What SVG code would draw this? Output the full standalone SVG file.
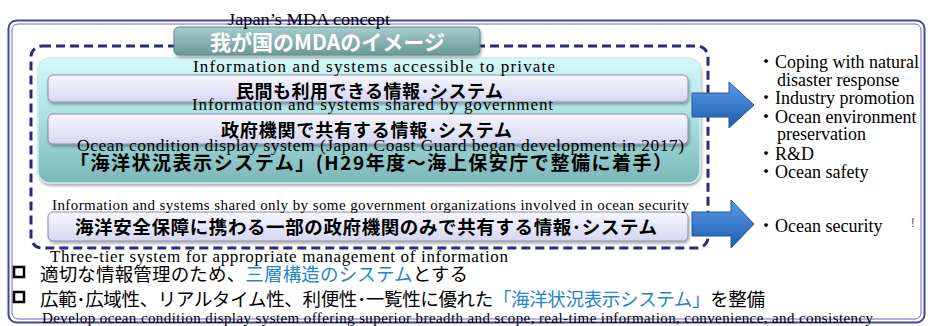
<svg xmlns="http://www.w3.org/2000/svg" width="928" height="326" viewBox="0 0 928 326">
<defs>
<linearGradient id="gTier" x1="0" y1="0" x2="0" y2="1">
<stop offset="0" stop-color="#d6f8f8"/><stop offset="0.5" stop-color="#a6e0e0"/><stop offset="1" stop-color="#7cb6b6"/>
</linearGradient>
<linearGradient id="gBox" x1="0" y1="0" x2="0" y2="1">
<stop offset="0" stop-color="#f7f7ff"/><stop offset="1" stop-color="#d6d6f0"/>
</linearGradient>
<linearGradient id="gTitle" x1="0" y1="0" x2="0" y2="1">
<stop offset="0" stop-color="#a9cccc"/><stop offset="1" stop-color="#6a9898"/>
</linearGradient>
<linearGradient id="gArrow" x1="0" y1="0" x2="0" y2="1">
<stop offset="0" stop-color="#5a9ae6"/><stop offset="1" stop-color="#1d5cb0"/>
</linearGradient>
<filter id="sh" x="-5%" y="-20%" width="110%" height="150%">
<feDropShadow dx="1" dy="2" stdDeviation="1.5" flood-color="#000" flood-opacity="0.35"/>
</filter>
</defs>
<style>
.en{font-family:"Liberation Serif","Noto Sans CJK JP",serif;fill:#000}
.jp{font-family:"Noto Sans CJK JP",sans-serif;fill:#000}
.jpb{font-family:"Noto Sans CJK JP",sans-serif;font-weight:bold;fill:#000}
.blue{fill:#1f86cc}
.box{fill:url(#gBox);stroke:#8c8cad;stroke-width:1}
.arrow{fill:url(#gArrow);stroke:#2a5798;stroke-width:1}
.list{font-family:"Liberation Serif","Noto Sans CJK JP",serif;font-size:18px;fill:#000}
</style>
<rect width="928" height="326" fill="#fff"/>

<g id="frame" fill="none">
<rect x="8.5" y="20.5" width="916" height="302" rx="8" stroke="#45459f" stroke-width="2"/>
<rect x="12" y="24" width="909" height="295" rx="6" stroke="#6b6bbb" stroke-width="1"/>
</g>

<g id="scope">
<rect x="31" y="46" width="677" height="202" rx="11" fill="none" stroke="#2b2b7e" stroke-width="3" stroke-dasharray="9 5"/>
</g>

<g id="tier-shared">
<rect x="38" y="58" width="662" height="125" rx="12" fill="url(#gTier)" stroke="#c4f0f0" stroke-width="1.5" filter="url(#sh)"/>
</g>

<g id="box-private">
<rect class="box" x="48" y="75" width="640" height="27" rx="5" filter="url(#sh)"/>
<text class="en" x="193" y="72" font-size="17" textLength="362" lengthAdjust="spacing">Information and systems accessible to private</text>
<text class="jpb" x="236" y="98" font-size="18" textLength="267" lengthAdjust="spacing">民間も利用できる情報･システム</text>
</g>

<g id="box-government">
<rect class="box" x="48" y="114" width="640" height="30" rx="5" filter="url(#sh)"/>
<text class="en" x="192" y="110" font-size="17" textLength="361" lengthAdjust="spacing">Information and systems shared by government</text>
<text class="jpb" x="221" y="137" font-size="18" textLength="291" lengthAdjust="spacing">政府機関で共有する情報･システム</text>
</g>

<g id="ocean-display">
<text class="en" x="77" y="151" font-size="17.5" textLength="607" lengthAdjust="spacing">Ocean condition display system (Japan Coast Guard began development in 2017)</text>
<text class="jpb" x="70" y="170" font-size="19" textLength="602" lengthAdjust="spacing">「海洋状況表示システム」(H29年度～海上保安庁で整備に着手）</text>
</g>

<g id="box-security">
<rect class="box" x="48" y="212" width="640" height="29" rx="5" filter="url(#sh)"/>
<text class="en" x="52" y="210" font-size="15" textLength="637" lengthAdjust="spacing">Information and systems shared only by some government organizations involved in ocean security</text>
<text class="jpb" x="75" y="234" font-size="18.5" textLength="582" lengthAdjust="spacing">海洋安全保障に携わる一部の政府機関のみで共有する情報･システム</text>
</g>

<g id="title">
<rect x="174" y="27" width="306" height="28" rx="5" fill="url(#gTitle)" stroke="#5d8b8b" stroke-width="1" filter="url(#sh)"/>
<text x="210" y="50" font-family="Noto Sans CJK JP,sans-serif" font-weight="bold" font-size="21" fill="#fff" textLength="235" lengthAdjust="spacingAndGlyphs">我が国のMDAのイメージ</text>
<text class="en" x="228" y="25" font-size="17.5" textLength="162" lengthAdjust="spacingAndGlyphs">Japan’s MDA concept</text>
</g>

<g id="connectors">
<polygon class="arrow" points="692,93 729,93 729,82 754,105 729,128 729,117 692,117"/>
<polygon class="arrow" points="692,212 731,212 731,200 754,224 731,248 731,236 692,236"/>
</g>

<g id="outcomes-shared">
<text class="list" x="757" y="68">・Coping with natural</text>
<text class="list" x="777" y="86">disaster response</text>
<text class="list" x="757" y="104">・Industry promotion</text>
<text class="list" x="757" y="123">・Ocean environment</text>
<text class="list" x="777" y="140">preservation</text>
<text class="list" x="757" y="160">・R&amp;D</text>
<text class="list" x="757" y="178">・Ocean safety</text>
</g>

<g id="outcomes-security">
<text class="list" x="757" y="232">・Ocean security</text>
<text x="911" y="227" font-family="Liberation Sans,sans-serif" font-size="13" fill="#555">!</text>
</g>

<g id="notes">
<text class="en" x="50" y="262" font-size="17" textLength="458" lengthAdjust="spacing">Three-tier system for appropriate management of information</text>
<rect x="14" y="267" width="10" height="10" fill="none" stroke="#000" stroke-width="2.5"/>
<text class="jp" x="40" y="281" font-size="18.5" textLength="428" lengthAdjust="spacing">適切な情報管理のため、<tspan class="blue">三層構造のシステム</tspan>とする</text>
<rect x="14" y="292" width="10" height="10" fill="none" stroke="#000" stroke-width="2.5"/>
<text class="jp" x="40" y="306" font-size="18.5" textLength="725" lengthAdjust="spacing">広範･広域性、リアルタイム性、利便性･一覧性に優れた<tspan class="blue">「海洋状況表示システム」</tspan>を整備</text>
<text class="en" x="42" y="323" font-size="15" textLength="831" lengthAdjust="spacing">Develop ocean condition display system offering superior breadth and scope, real-time information, convenience, and consistency</text>
</g>
</svg>
